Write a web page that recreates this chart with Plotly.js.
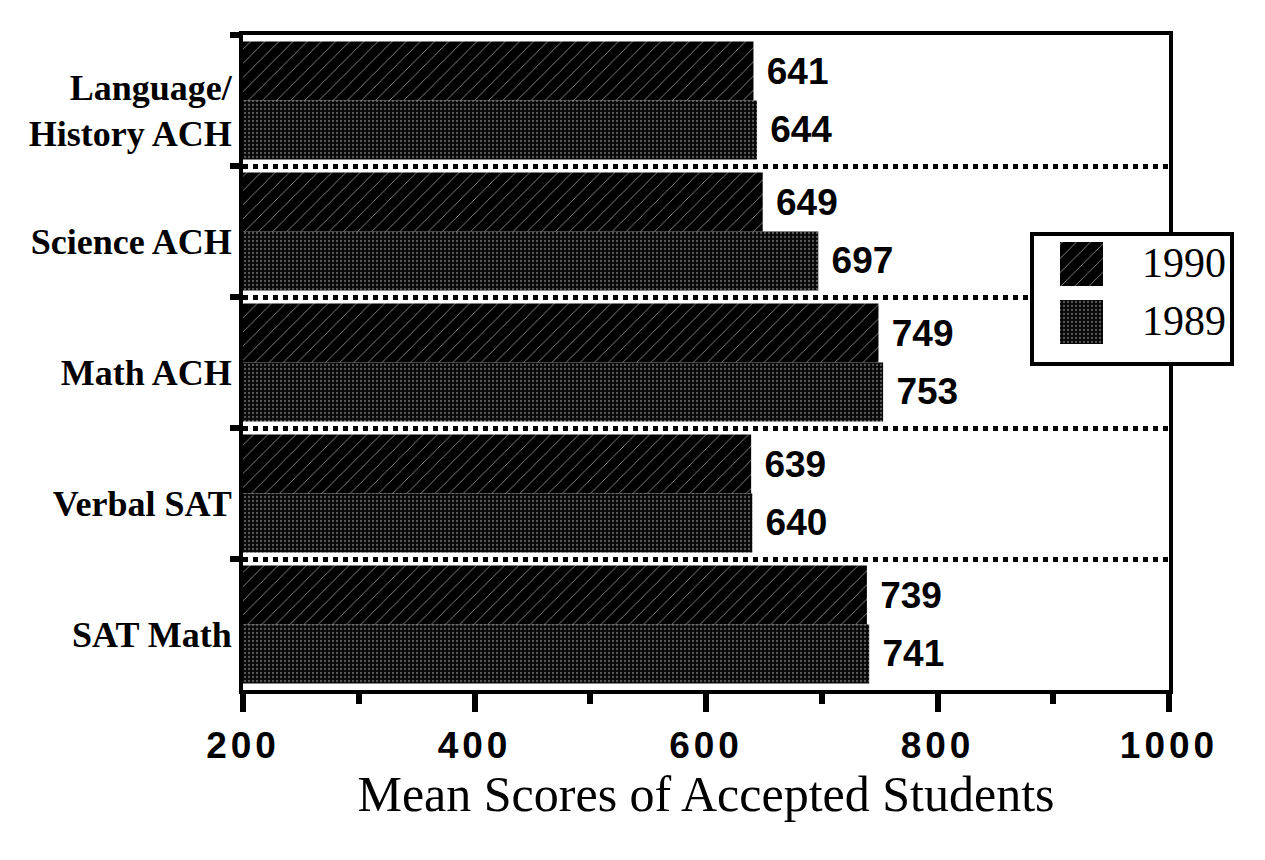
<!DOCTYPE html>
<html>
<head>
<meta charset="utf-8">
<script src="https://cdn.plot.ly/plotly-3.0.1.min.js"></script>
<style>
html,body{margin:0;padding:0;background:#fff;}
#chart{width:1265px;height:860px;}
.xtick text{letter-spacing:4px;}
</style>
</head>
<body>
<div id="chart"></div>
<script>
// ---- data ----
const categories = ["Language/<br>History ACH", "Science ACH", "Math ACH", "Verbal SAT", "SAT Math"];
const seriesNames = ["1990", "1989"];
const scores1990 = [641, 649, 749, 639, 739];
const scores1989 = [644, 697, 753, 640, 741];
const xTicks = [200, 400, 600, 800, 1000];

// ---- styles ----
const serif = "Liberation Serif, Times New Roman, serif";
const sans = "Liberation Sans, Arial, sans-serif";
const valueFont = {family: sans, size: 37, color: "#000", weight: "bold"};
const patterns = [
  {shape: "/", fgcolor: "#a0a0a0", bgcolor: "#000", size: 10, solidity: 0.08},
  {shape: ".", fgcolor: "#5a5a5a", bgcolor: "#080808", size: 4, solidity: 0.25}
];
const label = v => "\u00A0" + v;

const traces = [
  {
    type: "bar", orientation: "h", name: seriesNames[0], showlegend: false,
    y: categories, x: scores1990, xaxis: "x", yaxis: "y",
    text: scores1990.map(label), textposition: "outside", cliponaxis: false, constraintext: "none",
    textfont: valueFont,
    marker: {color: "#000", line: {width: 0}, pattern: patterns[0]}
  },
  {
    type: "bar", orientation: "h", name: seriesNames[1], showlegend: false,
    y: categories, x: scores1989, xaxis: "x", yaxis: "y",
    text: scores1989.map(label), textposition: "outside", cliponaxis: false, constraintext: "none",
    textfont: valueFont,
    marker: {color: "#111", line: {width: 0}, pattern: patterns[1]}
  }
];

// ---- custom legend drawn in its own small subplot (box units: 204 x 134) ----
const LW = 204, LH = 134;
const legendRows = seriesNames.map((n, i) => 10 + i * 58);
// legend frame (white box with black border) as a bar so it is drawn before the swatches
traces.push({
  type: "bar", orientation: "h", xaxis: "x2", yaxis: "y2", showlegend: false, hoverinfo: "skip",
  y: [2], x: [LW - 4], base: 2, width: LH - 4, offset: 0,
  marker: {color: "#fff", line: {color: "#000", width: 4}}
});
traces.push({
  type: "bar", orientation: "h", xaxis: "x2", yaxis: "y2", showlegend: false, hoverinfo: "skip",
  y: legendRows, x: seriesNames.map(() => 43), base: 30, width: 44, offset: 0,
  marker: {color: "#000", line: {width: 0}, pattern: {
    shape: patterns.map(p => p.shape), fgcolor: patterns.map(p => p.fgcolor),
    bgcolor: patterns.map(p => p.bgcolor), size: patterns.map(p => p.size),
    solidity: patterns.map(p => p.solidity)}}
});
traces.push({
  type: "scatter", mode: "text", xaxis: "x2", yaxis: "y2", showlegend: false, hoverinfo: "skip",
  x: seriesNames.map(() => 112), y: legendRows.map(r => r + 24), text: seriesNames,
  textposition: "middle right", cliponaxis: false,
  textfont: {family: serif, size: 42, color: "#000"}
});

const PL = 243, PR = 1240, PT = 35, PB = 690, AXR = 1169;
const px = v => (v - PL) / (PR - PL);
const py = v => 1 - (v - PT) / (PB - PT);

const layout = {
  width: 1265, height: 860,
  margin: {l: PL, r: 1265 - PR, t: PT, b: 860 - PB},
  paper_bgcolor: "#fff", plot_bgcolor: "#fff",
  barmode: "group", bargap: 0.1, bargroupgap: 0,
  showlegend: false,
  xaxis: {
    domain: [0, px(AXR)],
    range: [200, 1000], tickvals: xTicks, ticktext: xTicks.map(String),
    showline: true, linecolor: "#000", linewidth: 4, mirror: true,
    ticks: "outside", ticklen: 18, tickwidth: 6, tickcolor: "#000",
    minor: {dtick: 100, ticks: "outside", ticklen: 10, tickwidth: 6, tickcolor: "#000", showgrid: false},
    showgrid: false, zeroline: false,
    ticklabelstandoff: 2,
    tickfont: {family: sans, size: 37, color: "#000", weight: "bold"},
    title: {text: "Mean Scores of Accepted Students", standoff: 8,
      font: {family: serif, size: 50, color: "#000"}}
  },
  yaxis: {
    autorange: "reversed", type: "category",
    showline: true, linecolor: "#000", linewidth: 4, mirror: true,
    ticks: "outside", tickson: "boundaries", ticklen: 9, tickwidth: 6, tickcolor: "#000",
    showgrid: true, gridcolor: "#000", gridwidth: 5, griddash: "dot",
    zeroline: false,
    ticklabelstandoff: 0, ticklabelshift: -10,
    tickfont: {family: serif, size: 36, color: "#000", weight: "bold"}
  },
  xaxis2: {
    domain: [px(1030), px(1234)], anchor: "y2", range: [0, LW],
    visible: false, fixedrange: true
  },
  yaxis2: {
    domain: [py(366), py(232)], anchor: "x2", range: [LH, 0],
    visible: false, fixedrange: true
  }
};

Plotly.newPlot("chart", traces, layout, {displayModeBar: false, staticPlot: true});
</script>
</body>
</html>
